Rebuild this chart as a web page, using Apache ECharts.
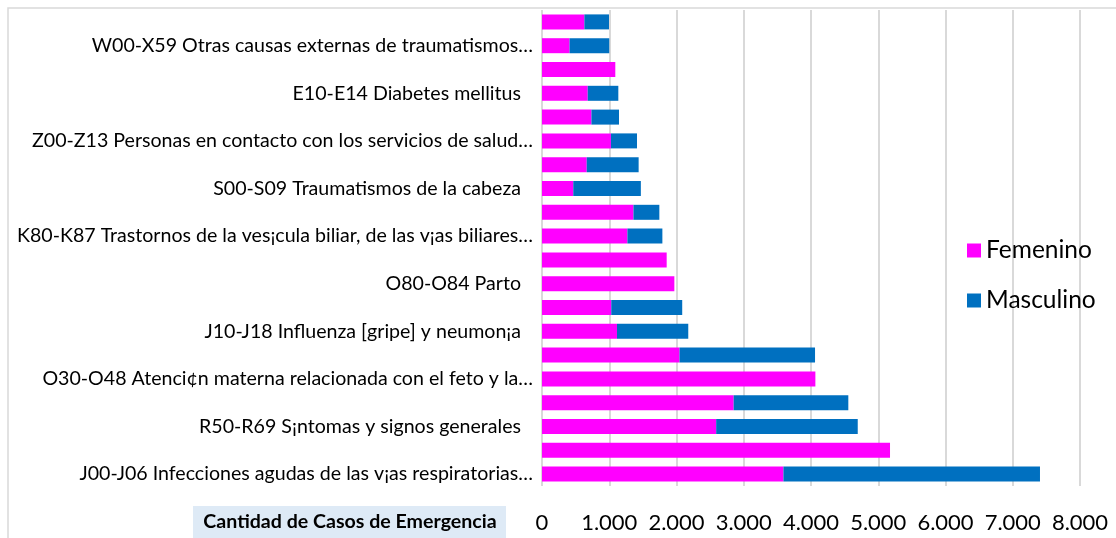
<!DOCTYPE html>
<html>
<head>
<meta charset="utf-8">
<script src="https://cdn.jsdelivr.net/npm/echarts@6/dist/echarts.min.js"></script>
<style>
html,body{margin:0;padding:0;background:#fff;}
#c{width:1116px;height:538px;}
</style>
</head>
<body>
<div id="c"></div>
<script>
// Categories listed bottom to top (ECharts category axis starts at the bottom)
const categories = [
  "J00-J06 Infecciones agudas de las v¡as respiratorias…",
  "Categoría 19",
  "R50-R69 S¡ntomas y signos generales",
  "Categoría 17",
  "O30-O48 Atenci¢n materna relacionada con el feto y la…",
  "Categoría 15",
  "J10-J18 Influenza [gripe] y neumon¡a",
  "Categoría 13",
  "O80-O84 Parto",
  "Categoría 11",
  "K80-K87 Trastornos de la ves¡cula biliar, de las v¡as biliares…",
  "Categoría 9",
  "S00-S09 Traumatismos de la cabeza",
  "Categoría 7",
  "Z00-Z13 Personas en contacto con los servicios de salud…",
  "Categoría 5",
  "E10-E14 Diabetes mellitus",
  "Categoría 3",
  "W00-X59 Otras causas externas de traumatismos…",
  "Categoría 1"
];
const femenino  = [3590, 5175, 2590, 2850, 4065, 2045, 1115, 1030, 1968, 1854, 1270, 1360, 465, 665, 1025, 735, 680, 1090, 410, 630];
const masculino = [3815,    0, 2105, 1705,    0, 2015, 1060, 1055,    0,    0,  520,  385, 1005, 772, 388, 410, 455,    0, 590, 366];
const xTicks = [0, 1000, 2000, 3000, 4000, 5000, 6000, 7000, 8000];
const seriesNames = ["Femenino", "Masculino"];
const axisTitle = "Cantidad de Casos de Emergencia";

const FONT = "Lato, 'Open Sans', sans-serif";
function fmt(v){ return String(v).replace(/\B(?=(\d{3})+(?!\d))/g, "."); }

const chart = echarts.init(document.getElementById('c'), null, {renderer:'canvas'});
chart.setOption({
  animation: false,
  backgroundColor: '#ffffff',
  grid: { left: 542, right: 36, top: 10, bottom: 52, containLabel: false },
  legend: {
    orient: 'vertical',
    left: 967, top: 238,
    itemWidth: 14, itemHeight: 14, itemGap: 25,
    icon: 'rect',
    padding: 0,
    textStyle: { fontFamily: FONT, fontSize: 24.5, color: '#000', lineHeight: 24 },
    data: seriesNames
  },
  xAxis: {
    type: 'value',
    min: xTicks[0], max: xTicks[xTicks.length-1], interval: xTicks[1]-xTicks[0],
    axisLine: { show: false }, axisTick: { show: false },
    splitLine: { show: true, lineStyle: { color: '#d9d9d9', width: 2 } },
    axisLabel: { fontFamily: FONT, fontSize: 22, color: '#000', margin: 26, formatter: fmt }
  },
  yAxis: {
    type: 'category',
    data: categories,
    axisLine: { show: false }, axisTick: { show: false },
    axisLabel: {
      interval: 1, fontFamily: FONT, fontSize: 19.6, color: '#000', margin: 9,
      formatter: function(v){ return v.endsWith('…') ? v : '{p|' + v + '}'; },
      rich: { p: { fontFamily: FONT, fontSize: 19.6, color: '#000', padding: [0, 12, 0, 0] } }
    }
  },
  series: [
    { name: seriesNames[0], type: 'bar', stack: 'total', data: femenino, barWidth: 15,
      itemStyle: { color: '#FF00FF' } },
    { name: seriesNames[1], type: 'bar', stack: 'total', data: masculino, barWidth: 15,
      itemStyle: { color: '#0070C0' } }
  ],
  graphic: [
    { type: 'polyline', silent: true, z: -1,
      shape: { points: [[8, 545], [8, 8], [1125, 8]] },
      style: { stroke: '#d9d9d9', lineWidth: 1.5, fill: null } },
    { type: 'rect', silent: true,
      shape: { x: 193, y: 506, width: 313, height: 40 },
      style: { fill: '#DEEAF6' } },
    { type: 'text', silent: true,
      x: 350, y: 522,
      style: { text: axisTitle, fontFamily: FONT, fontWeight: 'bold', fontSize: 19.6, fill: '#000',
               align: 'center', verticalAlign: 'middle' } }
  ]
});
</script>
</body>
</html>
